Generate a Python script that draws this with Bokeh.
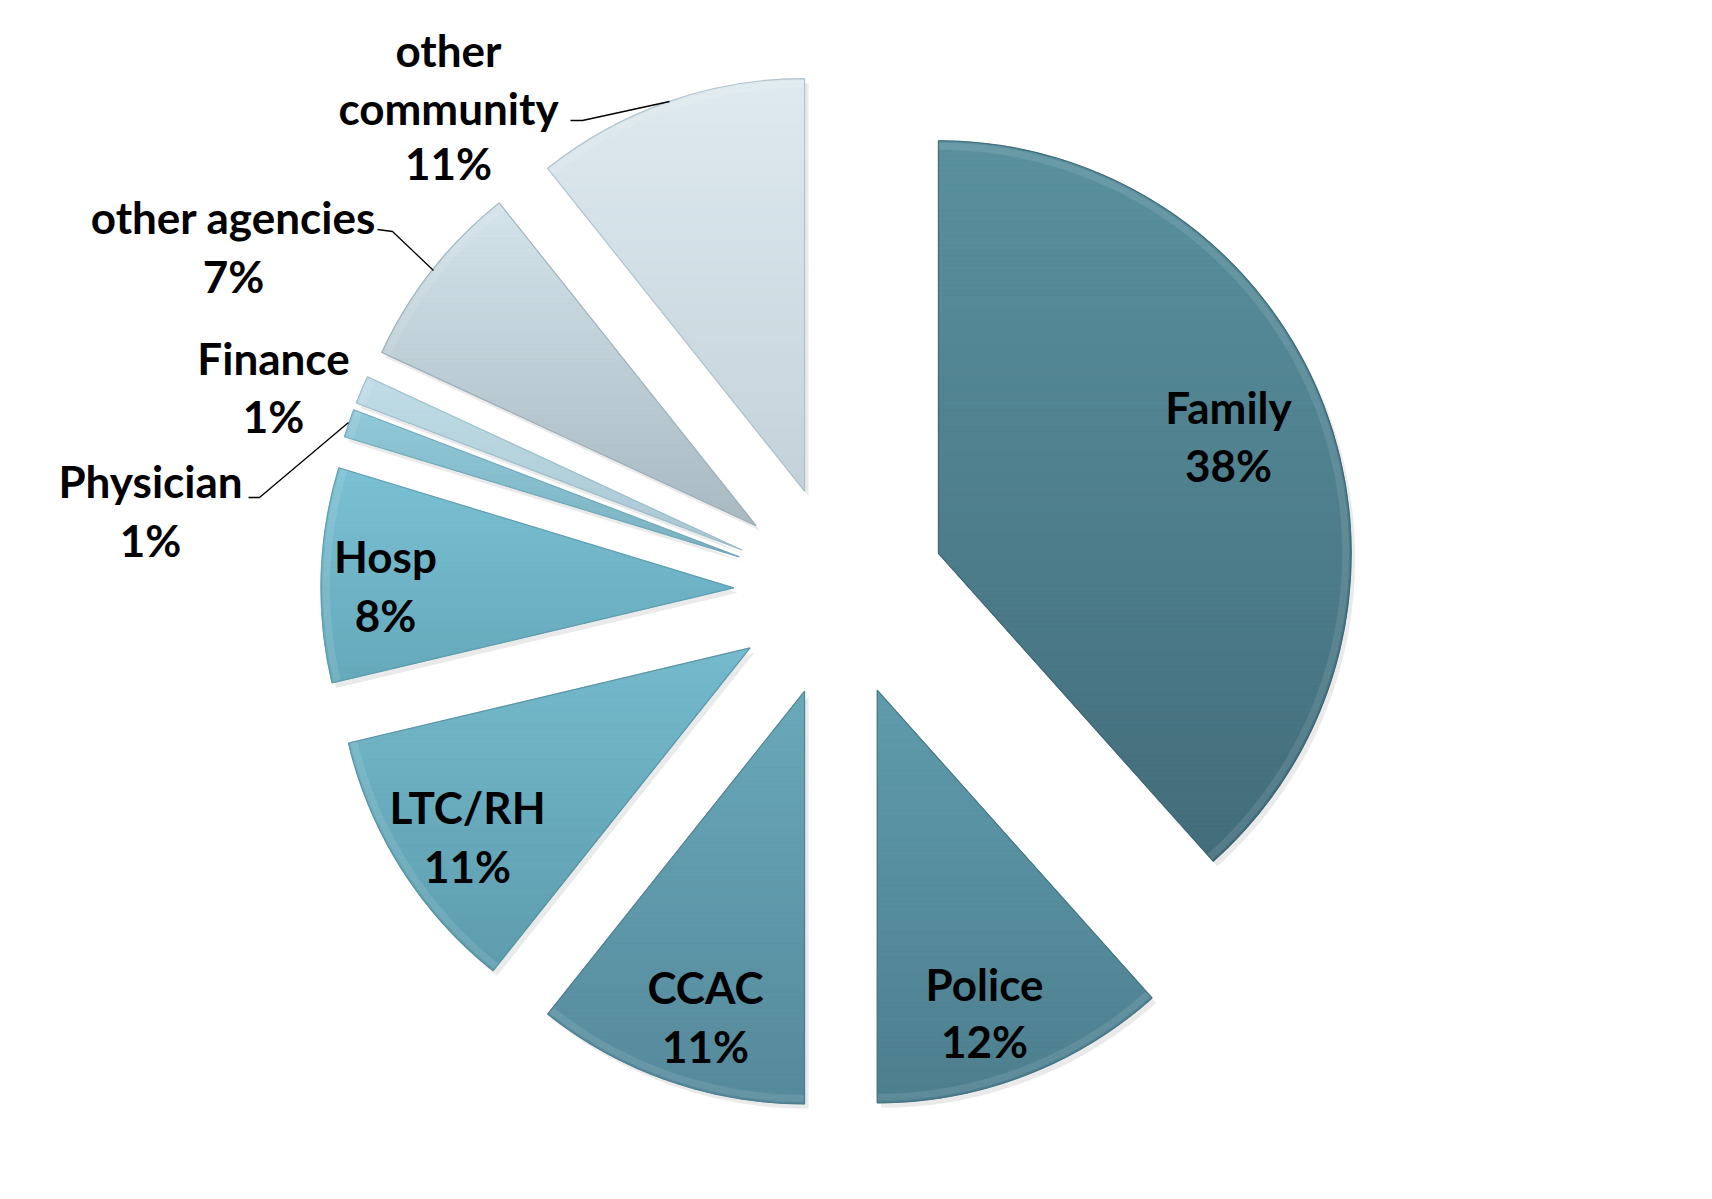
import numpy as np
from bokeh.plotting import figure
from bokeh.models import Range1d
from bokeh.core.properties import value
from bokeh.embed import file_html
from bokeh.resources import INLINE

# ---------------- data ----------------
categories = ["Family", "Police", "CCAC", "LTC/RH", "Hosp", "Physician", "Finance",
              "other agencies", "other community"]
shares = [38.4, 11.6, 10.7, 10.6, 8.4, 1.1, 1.1, 7.4, 10.7]   # percent (estimated)
pct_labels = ["%d%%" % round(v) for v in shares]

# ---------------- style ----------------
top_colors = ["#5a919f", "#5f9cac", "#69a9ba", "#75bbcd", "#7bc1d3", "#92c9d8",
              "#c0dde7", "#d3e4eb", "#dfeaf0"]
bot_colors = ["#436d7b", "#4d7e8e", "#55899b", "#5d9cad", "#65a9bb", "#7ab2c2",
              "#a9c8d3", "#a9b9c1", "#c3d2d9"]
edge_colors = ["#3c6270", "#44707e", "#4b7c8c", "#558d9d", "#5b99aa", "#6ea5b5",
               "#98b9c5", "#98aab3", "#a9bcc5"]

W, H = 1696, 1183
OFF = 0                    # page offset of the canvas in the picture
CX, CY = 839.0, 590.7      # pie centre (page pixels)
R = 412.7                  # radius
EXPLODE = 105.9            # explode distance
FONT = "Lato"
FSIZE = "44px"

# label layout (page pixels): x, y of name line, y of pct line
label_layout = {
    "Family": (1228, 406, 464),
    "Police": (984, 983, 1040),
    "CCAC": (705, 986, 1045),
    "LTC/RH": (467, 806, 865),
    "Hosp": (385, 555, 614),
    "Physician": (150, 480, 539),
    "Finance": (273, 357, 415),
    "other agencies": (233, 216, 275),
}
other_comm_lines = [("other", 448, 49), ("community", 448, 107), (None, 448, 162)]
leaders = [
    [(570, 120), (582, 120), (669, 101)],
    [(377, 229), (392, 231), (433, 270)],
    [(248, 497), (259, 497), (348, 422)],
]


def hex2rgb(h):
    h = h.lstrip("#")
    return np.array([int(h[i:i + 2], 16) for i in (0, 2, 4)], dtype=float)


def rgb2hex(c):
    c = np.clip(np.round(c), 0, 255).astype(int)
    return "#%02x%02x%02x" % tuple(c)


def clip_half(poly, yv, keep_above):
    out = []
    n = len(poly)
    for i in range(n):
        p, q = poly[i], poly[(i + 1) % n]
        pin = (p[1] >= yv) if keep_above else (p[1] <= yv)
        qin = (q[1] >= yv) if keep_above else (q[1] <= yv)
        if pin:
            out.append(p)
        if pin != qin:
            t = (yv - p[1]) / (q[1] - p[1])
            out.append((p[0] + t * (q[0] - p[0]), yv))
    return out


p = figure(width=W, height=H, output_backend="svg", toolbar_location=None,
           x_range=Range1d(OFF, OFF + W), y_range=Range1d(-(OFF + H), -OFF),
           min_border=0, background_fill_color="white", border_fill_color="white")
p.axis.visible = False
p.grid.visible = False
p.outline_line_color = None

total = float(sum(shares))
cum = np.cumsum([0] + shares) / total * 360.0

for i, cat in enumerate(categories):
    a0, a1 = np.radians(cum[i]), np.radians(cum[i + 1])
    m = 0.5 * (a0 + a1)
    ax = CX + EXPLODE * np.sin(m)
    ay = -(CY - EXPLODE * np.cos(m))   # data y = -page y
    # shadow
    p.wedge(x=ax + 4, y=ay - 5, radius=R, start_angle=np.pi / 2 - a0,
            end_angle=np.pi / 2 - a1, direction="clock",
            fill_color="#7a7a7a", fill_alpha=0.16, line_color=None)
    # base slice
    p.wedge(x=ax, y=ay, radius=R, start_angle=np.pi / 2 - a0,
            end_angle=np.pi / 2 - a1, direction="clock",
            fill_color=bot_colors[i], line_color=None)
    # vertical gradient via horizontal strips of the slice polygon
    nseg = max(6, int(np.degrees(a1 - a0) * 2))
    th = np.linspace(a0, a1, nseg)
    poly = [(ax, ay)] + [(ax + R * np.sin(t), ay + R * np.cos(t)) for t in th]
    ys = [pt[1] for pt in poly]
    ymin, ymax = min(ys), max(ys)
    nb = max(2, int((ymax - ymin) / 5))
    edges = np.linspace(ymax, ymin, nb + 1)
    ctop, cbot = hex2rgb(top_colors[i]), hex2rgb(bot_colors[i])
    xs_l, ys_l, cols = [], [], []
    for b in range(nb):
        yt, yb = edges[b], edges[b + 1]
        piece = clip_half(clip_half(poly, yt, False), yb, True)
        if len(piece) < 3:
            continue
        t = (ymax - 0.5 * (yt + yb)) / (ymax - ymin)
        cols.append(rgb2hex(ctop + t * (cbot - ctop)))
        xs_l.append([q[0] for q in piece])
        ys_l.append([q[1] for q in piece])
    p.patches(xs=xs_l, ys=ys_l, fill_color=cols, line_color=cols, line_width=0.8)
    # bevel: light inner rim and darker outline
    p.annular_wedge(x=ax, y=ay, inner_radius=R - 9, outer_radius=R - 2,
                    start_angle=np.pi / 2 - a0, end_angle=np.pi / 2 - a1,
                    direction="clock", fill_color="white", fill_alpha=0.10,
                    line_color=None)
    p.wedge(x=ax, y=ay, radius=R, start_angle=np.pi / 2 - a0,
            end_angle=np.pi / 2 - a1, direction="clock",
            fill_alpha=0, line_color=edge_colors[i], line_width=1.2, line_alpha=0.8)

# leader lines
for ln in leaders:
    p.line(x=[q[0] for q in ln], y=[-q[1] for q in ln], line_color="black", line_width=1.3)

# labels
for i, cat in enumerate(categories):
    if cat not in label_layout:
        continue
    lx, ly1, ly2 = label_layout[cat]
    p.text(x=[lx, lx], y=[-ly1, -ly2], text=[cat, pct_labels[i]],
           text_font=value(FONT), text_font_style="bold", text_font_size=FSIZE,
           text_color="black", text_align="center", text_baseline="middle")
oc_text = [t if t is not None else pct_labels[categories.index("other community")]
           for t, _, _ in other_comm_lines]
p.text(x=[q[1] for q in other_comm_lines], y=[-q[2] for q in other_comm_lines],
       text=oc_text,
       text_font=value(FONT), text_font_style="bold", text_font_size=FSIZE,
       text_color="black", text_align="center", text_baseline="middle")

open("out.html", "w").write(file_html(p, INLINE))
